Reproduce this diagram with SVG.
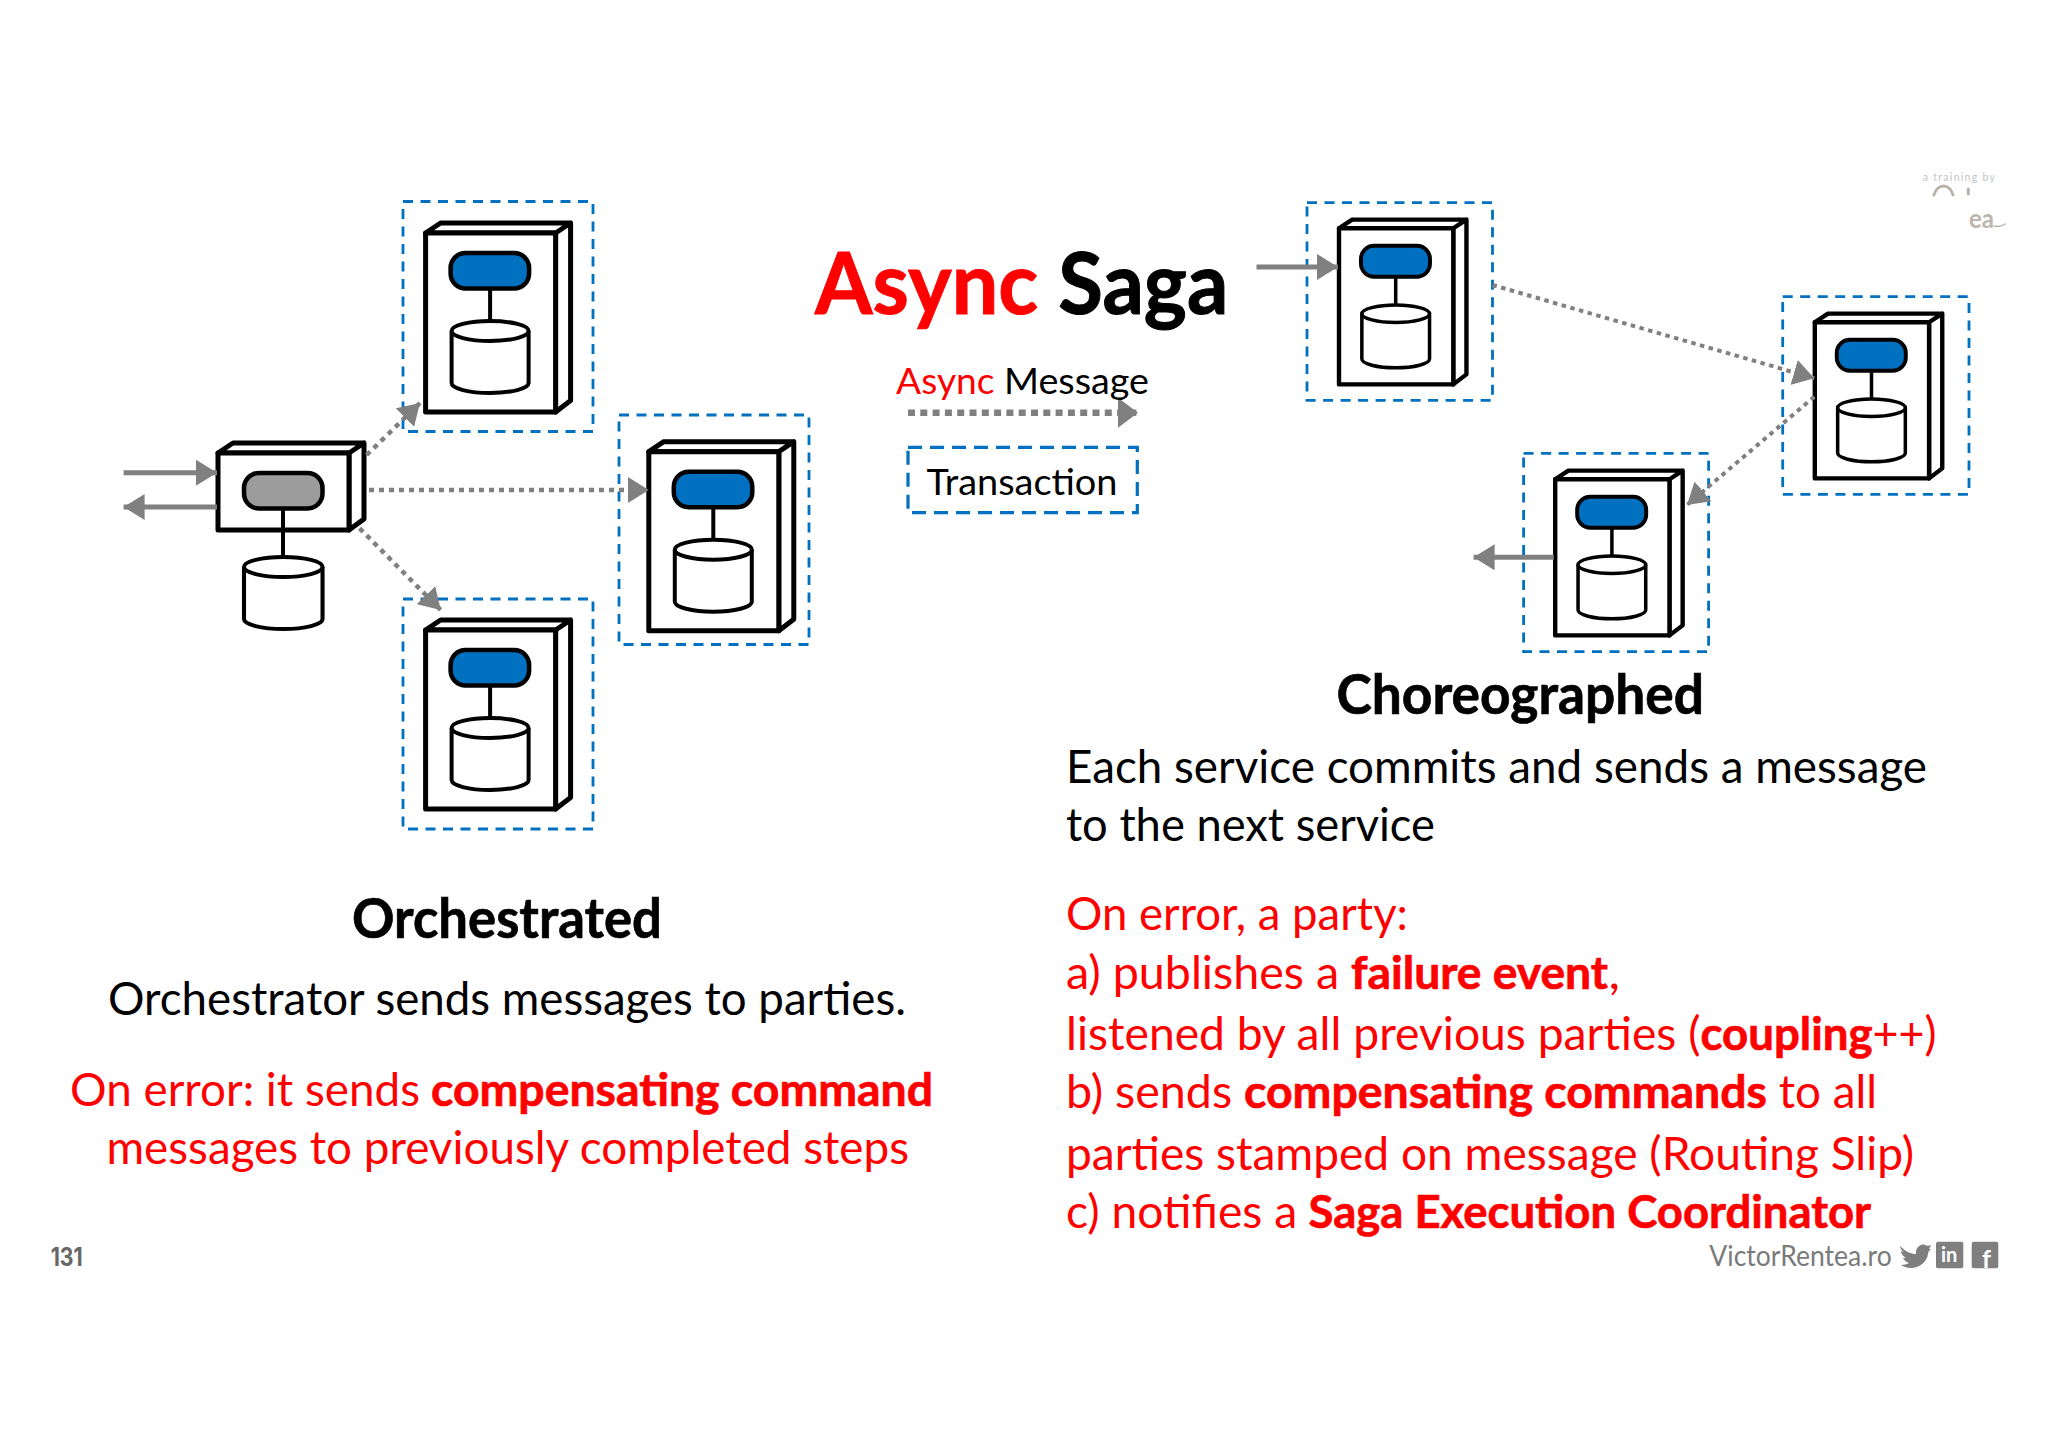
<svg xmlns="http://www.w3.org/2000/svg" xmlns:xlink="http://www.w3.org/1999/xlink" width="2048" height="1448" viewBox="0 0 2048 1448">
<style>
text{font-family:Lato,"Open Sans","Liberation Sans",sans-serif;fill:#000}
.r{fill:#f00}.b{font-weight:700;stroke:#f00;stroke-width:.7}
.body{font-size:46px}.head{font-size:56px;font-weight:700;stroke:#000;stroke-width:.7}
.tx{fill:none;stroke:#0070c0;stroke-width:2.800;stroke-dasharray:10 7.500}
.solid{fill:none;stroke:#808080;stroke-width:5;marker-end:url(#head)}
.dot{fill:none;stroke:#808080;stroke-width:4.500;stroke-dasharray:5 5;marker-end:url(#head)}
.dots{fill:none;stroke:#808080;stroke-width:4;stroke-dasharray:4.500 4.500;marker-end:url(#head)}
.box{fill:#fff;stroke:#000;stroke-width:5;stroke-linejoin:round}
.cyl{fill:#fff;stroke:#000;stroke-width:4;stroke-linejoin:round}
.link{stroke:#000;stroke-width:4;fill:none}
.soc{fill:#7f7f7f}
.wm{fill:none;stroke:#b9b2aa;stroke-width:3;stroke-linecap:round}
</style>
<defs>
<marker id="head" viewBox="0 0 21 26" refX="21" refY="13" markerWidth="21" markerHeight="26" markerUnits="userSpaceOnUse" orient="auto"><path d="M0 0L21 13L0 26Z" fill="#808080"/></marker>
<marker id="headL" viewBox="0 0 20 30" refX="20" refY="15" markerWidth="20" markerHeight="30" markerUnits="userSpaceOnUse" orient="auto"><path d="M0 0L20 15L0 30Z" fill="#808080"/></marker>
<g id="cyl"><path class="cyl" d="M0 10V62A38.500 10 0 0 0 77 62V10"/><ellipse class="cyl" cx="38.500" cy="10" rx="38.500" ry="10"/></g>
<g id="svc">
<path class="box" d="M0 0L15-10H145L130 0ZM130 0L145-10V167.500L130 179Z"/>
<rect class="box" width="130" height="179"/>
<line class="link" x1="64.500" y1="56" x2="64.500" y2="87"/>
<rect x="25" y="20" width="78.500" height="35.500" rx="15" fill="#0070c0" stroke="#000" stroke-width="4.500"/>
<use href="#cyl" x="26" y="88"/>
</g>
</defs>
<rect width="2048" height="1448" fill="#fff"/>

<g id="orchestrator">
<path class="box" d="M218 453L233 443H364L349 453ZM349 453L364 443V519L349 530Z"/>
<rect class="box" x="218" y="453" width="131" height="77"/>
<line class="link" x1="283" y1="509" x2="283" y2="557"/>
<rect x="244" y="473" width="78.500" height="35.500" rx="15" fill="#9c9c9c" stroke="#000" stroke-width="4.500"/>
<use href="#cyl" transform="translate(244 557) scale(1.02 1)"/>
</g>
<g id="party-top"><rect class="tx" x="403" y="201.500" width="190" height="230"/><use href="#svc" transform="translate(425.600 233)"/></g>
<g id="party-middle"><rect class="tx" x="619" y="415" width="190" height="229.500"/><use href="#svc" transform="translate(648.800 451.700)"/></g>
<g id="party-bottom"><rect class="tx" x="403" y="599" width="190" height="230"/><use href="#svc" transform="translate(425.600 630)"/></g>

<g id="choreo-first"><rect class="tx" x="1307" y="202.700" width="185.500" height="197.600"/><use href="#svc" transform="translate(1339 228.300) scale(.879 .872)"/></g>
<g id="choreo-second"><rect class="tx" x="1782.700" y="296.700" width="186.300" height="197.600"/><use href="#svc" transform="translate(1814.800 322.300) scale(.879 .872)"/></g>
<g id="choreo-third"><rect class="tx" x="1523.600" y="453.300" width="185" height="198.400"/><use href="#svc" transform="translate(1555.200 479.300) scale(.879 .872)"/></g>

<g id="legend-transaction"><rect x="908" y="447.300" width="229.300" height="65.400" fill="none" stroke="#0070c0" stroke-width="3.200" stroke-dasharray="14 8"/></g>

<g id="connectors">
<path class="solid" d="M123.600 472.700H217"/>
<path class="solid" d="M217 507H123.600"/>
<path class="dot" d="M366.600 455L420 403"/>
<path class="dot" d="M369 490H648.800"/>
<path class="dot" d="M359.600 528.300L440.700 610"/>
<path class="solid" d="M1256.500 267H1338"/>
<path class="dots" d="M1492.500 285L1814.300 378.300"/>
<path class="dots" d="M1814.300 396.700L1687 505"/>
<path class="solid" d="M1553.800 557.300H1473.600"/>
<path d="M908 412.700H1138" fill="none" stroke="#808080" stroke-width="6.500" stroke-dasharray="7 5.300" marker-end="url(#headL)"/>
</g>

<text y="313.700" font-size="86" font-weight="700" style="stroke-width:1"><tspan class="r" x="815" textLength="243.300" lengthAdjust="spacingAndGlyphs" style="stroke:#f00">Async </tspan><tspan x="1058.300" textLength="170" lengthAdjust="spacingAndGlyphs" style="stroke:#000">Saga</tspan></text>
<text y="394.300" font-size="37"><tspan class="r" x="896" textLength="108" lengthAdjust="spacingAndGlyphs">Async </tspan><tspan x="1004" textLength="145" lengthAdjust="spacingAndGlyphs">Message</tspan></text>
<text x="926.500" y="494.500" font-size="37" textLength="191" lengthAdjust="spacingAndGlyphs">Transaction</text>

<text class="head" x="352" y="937.700" textLength="310" lengthAdjust="spacingAndGlyphs">Orchestrated</text>
<text class="body" x="108" y="1015" textLength="798" lengthAdjust="spacingAndGlyphs">Orchestrator sends messages to parties.</text>
<text class="body r" y="1106"><tspan x="70" textLength="361.700" lengthAdjust="spacingAndGlyphs">On error: it sends </tspan><tspan class="b" x="431" textLength="502" lengthAdjust="spacingAndGlyphs">compensating command</tspan></text>
<text class="body r" x="106.400" y="1163.500" textLength="802.600" lengthAdjust="spacingAndGlyphs">messages to previously completed steps</text>

<text class="head" x="1336.600" y="713.700" textLength="367.400" lengthAdjust="spacingAndGlyphs">Choreographed</text>
<text class="body" x="1066" y="782.500" textLength="861" lengthAdjust="spacingAndGlyphs">Each service commits and sends a message</text>
<text class="body" x="1066" y="841" textLength="369" lengthAdjust="spacingAndGlyphs">to the next service</text>
<text class="body r" x="1066" y="930" textLength="342" lengthAdjust="spacingAndGlyphs">On error, a party:</text>
<text class="body r" y="989.300"><tspan x="1066" textLength="285" lengthAdjust="spacingAndGlyphs">a) publishes a </tspan><tspan class="b" x="1351" textLength="257" lengthAdjust="spacingAndGlyphs">failure event</tspan><tspan x="1608.500" textLength="11.500" lengthAdjust="spacingAndGlyphs">,</tspan></text>
<text class="body r" y="1050.300"><tspan x="1066" textLength="634.500" lengthAdjust="spacingAndGlyphs">listened by all previous parties (</tspan><tspan class="b" x="1700.500" textLength="172" lengthAdjust="spacingAndGlyphs">coupling</tspan><tspan x="1872.500" textLength="64" lengthAdjust="spacingAndGlyphs">++)</tspan></text>
<text class="body r" y="1108"><tspan x="1066" textLength="178" lengthAdjust="spacingAndGlyphs">b) sends </tspan><tspan class="b" x="1244" textLength="523" lengthAdjust="spacingAndGlyphs">compensating commands</tspan><tspan x="1767" textLength="110" lengthAdjust="spacingAndGlyphs"> to all</tspan></text>
<text class="body r" x="1066" y="1170.300" textLength="848" lengthAdjust="spacingAndGlyphs">parties stamped on message (Routing Slip)</text>
<text class="body r" y="1228"><tspan x="1066" textLength="243" lengthAdjust="spacingAndGlyphs">c) notifies a </tspan><tspan class="b" x="1308.500" textLength="562.500" lengthAdjust="spacingAndGlyphs">Saga Execution Coordinator</tspan></text>

<text x="50.700" y="1266.300" font-size="25" font-weight="700" textLength="32" lengthAdjust="spacingAndGlyphs" style="font-family:Inter,sans-serif;fill:#666">131</text>

<g id="footer">
<text x="1709.300" y="1265.500" font-size="29" textLength="182.400" lengthAdjust="spacingAndGlyphs" style="fill:#7a7a7a">VictorRentea.ro</text>
<path class="soc" d="M1900 1246C1906 1252 1911 1254 1916 1254C1915 1248 1921 1243 1925 1245C1927 1246 1928 1246 1931 1245L1929 1249L1931 1249C1929 1251 1928 1252 1928 1254C1927 1262 1919 1268 1911 1268C1907 1268 1904 1267 1901 1265C1904 1265 1907 1264 1909 1263C1906 1262 1904 1260 1903 1258L1906 1258C1903 1256 1901 1254 1901 1251L1904 1252C1901 1250 1900 1248 1900 1246Z"/>
<rect class="soc" x="1936" y="1241.700" width="27.300" height="26.600" rx="2"/>
<text x="1941" y="1262" font-size="20" font-weight="700" style="fill:#fff">in</text>
<rect class="soc" x="1971.700" y="1241.700" width="26.600" height="26.600" rx="2"/>
<text x="1982" y="1268" font-size="25" font-weight="700" style="fill:#fff">f</text>
</g>

<g id="watermark">
<text x="1922.700" y="180.700" font-size="10.500" textLength="72.300" style="fill:#c4c4c4">a training by</text>
<path class="wm" d="M1934 195C1937 183 1950 183 1953 195M1968.300 189V194"/>
<text x="1969" y="228" font-size="27" font-weight="700" textLength="25" lengthAdjust="spacingAndGlyphs" style="fill:#bdb6ae">ea</text>
<path class="wm" d="M1994 226C1998 227 2002 226 2005 224" style="stroke-width:1.500"/>
</g>
</svg>
